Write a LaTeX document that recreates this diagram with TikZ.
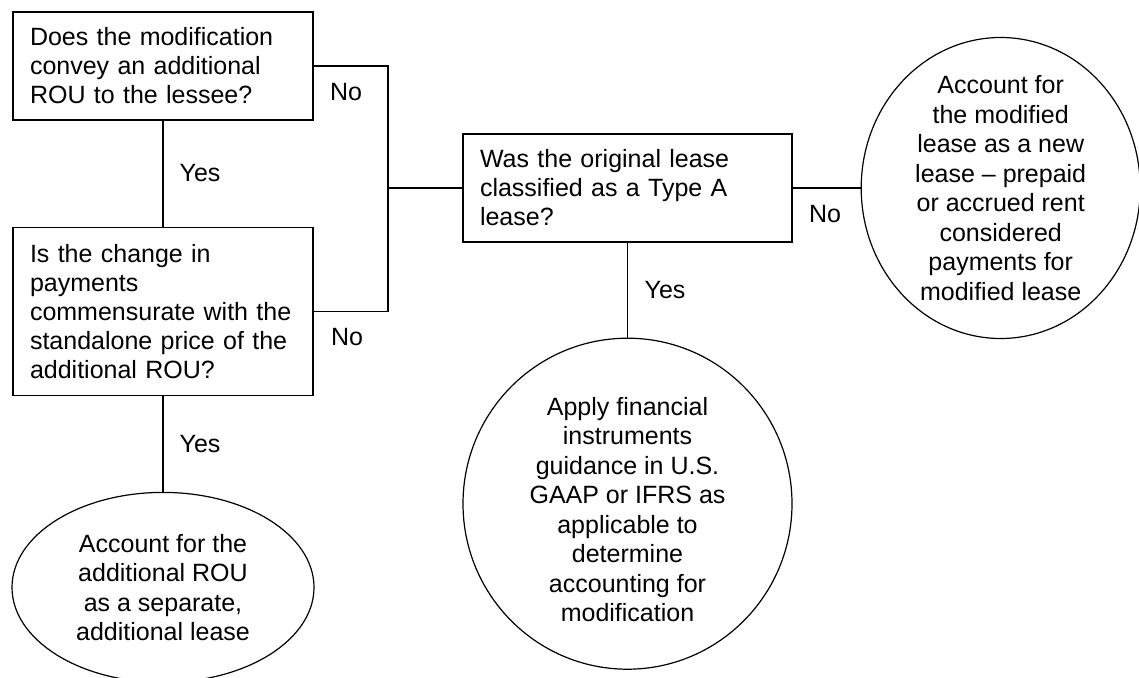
\documentclass[tikz,border=0pt]{standalone}
\usepackage{fontspec}
\setmainfont{Liberation Sans}
\usetikzlibrary{positioning, shapes.geometric}

\begin{document}
\begin{tikzpicture}[
        x=1pt, y=1pt,
        question/.style={draw, rectangle, line width=1.2pt, align=left, inner xsep=17pt, inner ysep=0pt, minimum height=108pt, text width=266pt, font=\fontsize{25}{29}\selectfont},
        outcome/.style={draw, ellipse, line width=1.2pt, inner sep=0pt},
        outtext/.style={align=center, inner sep=0pt, font=\fontsize{25}{29.5}\selectfont},
        answer/.style={inner sep=0pt, font=\fontsize{25}{29}\selectfont},
        link/.style={line width=1.2pt}
    ]
        \useasboundingbox (0,0) rectangle (1139,-677);

        % questions
        \node[question] (q1) at (163,-66) {Does the modification\\convey an additional\\ROU to the lessee?};
        \node[question, minimum height=168pt, below=106pt of q1] (q2) {Is the change in\\payments\\commensurate with the\\standalone price of the\\additional ROU?};
        \node[question, text width=295pt] (q3) at (627.5,-188) {Was the original lease\\classified as a Type A\\lease?};

        % outcomes
        \node[outcome, minimum width=302pt, minimum height=190pt, below=96pt of q2] (e1) {};
        \node[outtext] (e1t) at (e1) {Account for the\\additional ROU\\as a separate,\\additional lease};
        \node[outcome, minimum width=279pt, minimum height=301pt, right=68pt of q3] (c1) {};
        \node[outtext] (c1t) at (c1) {Account for\\the modified\\lease as a new\\lease -- prepaid\\or accrued rent\\considered\\payments for\\modified lease};
        \node[outcome, minimum width=329pt, minimum height=331pt, below=95pt of q3] (c2) {};
        \node[outtext, below=0pt of c2.center, anchor=center, yshift=-6pt] (c2t) {Apply financial\\instruments\\guidance in U.S.\\GAAP or IFRS as\\applicable to\\determine\\accounting for\\modification};

        % connectors
        \coordinate (jn) at (388,-188);
        \draw[link] (q1.south) -- (q2.north);
        \draw[link] (q2.south) -- (e1.north);
        \draw[link] (q1.east) -| (jn) |- (q2.east);
        \draw[link] (jn) -- (q3.west);
        \draw[link] (q3.east) -- (c1.west);
        \draw[link] (q3.south) -- (c2.north);

        % answers
        \node[answer] (y1) at (200,-173) {Yes};
        \node[answer] (n1) at (346,-92) {No};
        \node[answer] (y2) at (200,-444) {Yes};
        \node[answer] (n2) at (347,-337) {No};
        \node[answer] (y3) at (665,-290) {Yes};
        \node[answer] (n3) at (825,-214) {No};
    \end{tikzpicture}
\end{document}
